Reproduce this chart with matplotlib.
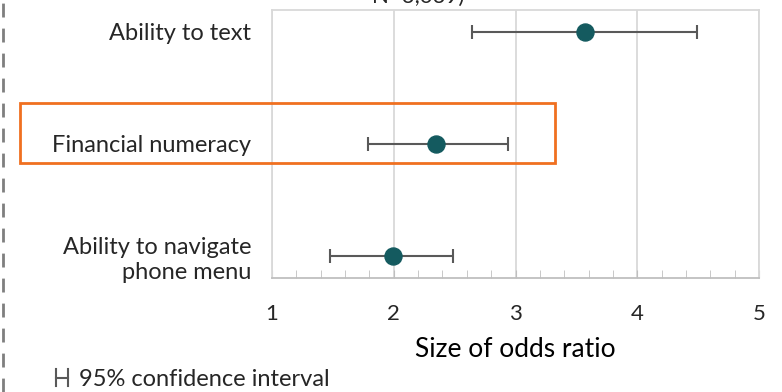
import matplotlib.pyplot as plt
from matplotlib.lines import Line2D
from matplotlib.patches import Rectangle
import numpy as np

plt.rcParams['font.family'] = ['Lato', 'DejaVu Sans']

labels = ["Ability to text", "Financial numeracy", "Ability to navigate\nphone menu"]
odds = [3.57, 2.35, 1.99]
ci_low = [2.64, 1.79, 1.48]
ci_high = [4.49, 2.94, 2.49]

W, H = 782, 392
fig = plt.figure(figsize=(W / 100, H / 100), dpi=100)
ax = fig.add_axes([272 / W, 1 - 278 / H, (759 - 272) / W, (278 - 10) / H])

ypos = np.arange(len(labels))
err = [np.array(odds) - np.array(ci_low), np.array(ci_high) - np.array(odds)]
ax.errorbar(odds, ypos, xerr=err, fmt="none", ecolor="#595959", elinewidth=1.5,
            capsize=5, capthick=1.5, zorder=3)
ax.scatter(odds, ypos, s=150, color="#145A5F", zorder=4)

ax.set_xlim(1, 5)
ax.set_ylim(2.2, -0.196)
ax.set_xticks([1, 2, 3, 4, 5])
ax.set_xticks(np.arange(1, 5.01, 0.2), minor=True)
ax.grid(axis="x", which="major", color="#D9D9D9", lw=1.3)
ax.set_axisbelow(True)
for s in ["top", "right", "left"]:
    ax.spines[s].set_color("#D9D9D9")
    ax.spines[s].set_linewidth(1.3)
ax.spines["bottom"].set_color("#BFBFBF")
ax.spines["bottom"].set_linewidth(1.3)
ax.tick_params(axis="x", which="both", direction="in", length=6, color="#BFBFBF",
               labelsize=16, pad=19, labelcolor="#262626")
ax.tick_params(axis="y", length=0, labelsize=17, pad=15, labelcolor="#262626")
ax.set_yticks(ypos)
ax.set_yticklabels(labels, ha="right", linespacing=1.25)
ax.set_xlabel("Size of odds ratio", fontsize=19, color="black", labelpad=9)

# highlight box
fig.patches.append(Rectangle((20 / W, 1 - 163 / H), (555 - 20) / W, (163 - 103) / H,
                             transform=fig.transFigure, fill=False,
                             edgecolor="#F07020", lw=2))
# dashed divider on left
fig.lines.append(Line2D([3 / W, 3 / W], [0, 1], transform=fig.transFigure,
                        color="#7F7F7F", lw=2, ls=(0, (5, 4))))
# subtitle, cut off by the top edge as in the source
fig.text(418 / W, 1 + 3 / H, "N=3,039)", ha="center", va="center", fontsize=16,
         color="#262626")
# legend for CI
fig.text(79 / W, 1 - 379 / H, "95% confidence interval", ha="left", va="center",
         fontsize=17, color="#262626")
fig.lines.append(Line2D([56 / W, 68 / W], [1 - 378 / H, 1 - 378 / H],
                        transform=fig.transFigure, color="#595959", lw=1.5))
for xx in (56, 68):
    fig.lines.append(Line2D([xx / W, xx / W], [1 - 369 / H, 1 - 386 / H],
                            transform=fig.transFigure, color="#595959", lw=1.5))

fig.savefig("out.png", dpi=100, facecolor="white")
